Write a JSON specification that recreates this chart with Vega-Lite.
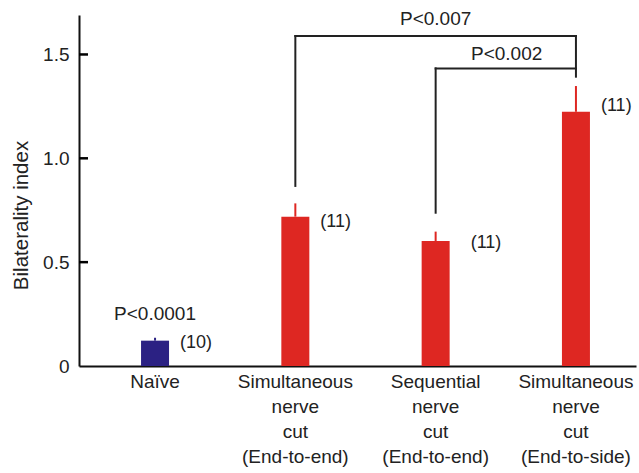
{
  "$schema": "https://vega.github.io/schema/vega-lite/v6.json",
  "width": 557,
  "height": 351,
  "autosize": {"type": "none"},
  "padding": {"left": 79, "top": 15, "right": 3, "bottom": 107},
  "config": {
    "view": {"stroke": null},
    "font": "Liberation Sans",
    "axisY": {
      "domainColor": "#111",
      "domainWidth": 2,
      "grid": false,
      "labelFontSize": 19,
      "labelColor": "#222",
      "labelFont": "Liberation Sans",
      "titleFontSize": 20.5,
      "titleFontWeight": "normal",
      "titleColor": "#222",
      "titleFont": "Liberation Sans"
    },
    "axisX": {
      "domainColor": "#111",
      "domainWidth": 2,
      "ticks": false,
      "labelFontSize": 19,
      "labelColor": "#222",
      "labelFont": "Liberation Sans",
      "labelAngle": 0,
      "labelLineHeight": 25,
      "labelPadding": 6,
      "title": null,
      "grid": false
    }
  },
  "resolve": {"scale": {"x": "independent"}, "axis": {"x": "independent"}},
  "datasets": {
    "bars": [
      {"cat": "Naïve", "group": "naive", "mean": 0.122, "upper": 0.136, "n": "(10)", "ny": 0.111},
      {"cat": "Simultaneous|nerve|cut|(End-to-end)", "group": "cut", "mean": 0.719, "upper": 0.783, "n": "(11)", "ny": 0.693},
      {"cat": "Sequential|nerve|cut|(End-to-end)", "group": "cut", "mean": 0.602, "upper": 0.647, "n": "(11)", "ny": 0.592},
      {"cat": "Simultaneous|nerve|cut|(End-to-side)", "group": "cut", "mean": 1.224, "upper": 1.348, "n": "(11)", "ny": 1.253}
    ],
    "brackets": [
      {"cat": "Simultaneous|nerve|cut|(End-to-end)", "cat2": "Simultaneous|nerve|cut|(End-to-end)", "y1": 0.867, "y2": 1.589},
      {"cat": "Simultaneous|nerve|cut|(End-to-end)", "cat2": "Simultaneous|nerve|cut|(End-to-side)", "y1": 1.589, "y2": 1.589},
      {"cat": "Simultaneous|nerve|cut|(End-to-side)", "cat2": "Simultaneous|nerve|cut|(End-to-side)", "y1": 1.589, "y2": 1.393},
      {"cat": "Sequential|nerve|cut|(End-to-end)", "cat2": "Sequential|nerve|cut|(End-to-end)", "y1": 0.738, "y2": 1.433},
      {"cat": "Sequential|nerve|cut|(End-to-end)", "cat2": "Simultaneous|nerve|cut|(End-to-side)", "y1": 1.433, "y2": 1.433}
    ],
    "pvals": [
      {"cat": "Naïve", "y": 0.25, "label": "P<0.0001", "pos": "center"},
      {"cat": "Sequential|nerve|cut|(End-to-end)", "y": 1.671, "label": "P<0.007", "pos": "center"},
      {"cat": "Sequential|nerve|cut|(End-to-end)", "y": 1.502, "label": "P<0.002", "pos": "between"}
    ],
    "ticks": [{"v": 0.5, "a": 0, "b": 9}, {"v": 1.0, "a": 0, "b": 9}, {"v": 1.5, "a": 0, "b": 9}]
  },
  "layer": [
    {
      "encoding": {
        "x": {
          "field": "cat",
          "type": "nominal",
          "sort": null,
          "scale": {
            "domain": ["Naïve", "Simultaneous|nerve|cut|(End-to-end)", "Sequential|nerve|cut|(End-to-end)", "Simultaneous|nerve|cut|(End-to-side)"],
            "paddingInner": 0.8,
            "paddingOuter": 0.385,
            "align": 0.574
          },
          "axis": {"labelExpr": "split(datum.label, '|')"}
        }
      },
      "layer": [
        {
          "data": {"name": "bars"},
          "mark": {"type": "bar", "size": 28},
          "encoding": {
            "y": {
              "field": "mean",
              "type": "quantitative",
              "title": "Bilaterality index",
              "scale": {"domain": [0, 1.69], "nice": false, "zero": true},
              "axis": {
                "values": [0, 0.5, 1, 1.5],
                "labelExpr": "datum.value == 0 ? '0' : format(datum.value, '.1f')",
                "ticks": false,
                "labelPadding": 10,
                "titleX": -58,
                "titleY": 200,
                "titleBaseline": "middle",
                "titleAngle": -90,
                "titleAlign": "center"
              }
            },
            "color": {
              "field": "group",
              "type": "nominal",
              "scale": {"domain": ["naive", "cut"], "range": ["#2b2183", "#de2722"]},
              "legend": null
            }
          }
        },
        {
          "data": {"name": "bars"},
          "mark": {"type": "rule", "strokeWidth": 2},
          "encoding": {
            "y": {"field": "mean", "type": "quantitative", "title": "Bilaterality index"},
            "y2": {"field": "upper"},
            "color": {"field": "group", "type": "nominal", "legend": null}
          }
        },
        {
          "data": {"name": "brackets"},
          "mark": {"type": "rule", "strokeWidth": 2, "color": "#222", "strokeCap": "square"},
          "encoding": {
            "x2": {"field": "cat2"},
            "y": {"field": "y1", "type": "quantitative", "title": "Bilaterality index"},
            "y2": {"field": "y2"}
          }
        },
        {
          "data": {"name": "bars"},
          "transform": [{"filter": "datum.cat != 'Sequential|nerve|cut|(End-to-end)'"}],
          "mark": {"type": "text", "align": "left", "baseline": "middle", "dx": 25, "fontSize": 18, "color": "#222", "font": "Liberation Sans"},
          "encoding": {
            "y": {"field": "ny", "type": "quantitative", "title": "Bilaterality index"},
            "text": {"field": "n"}
          }
        },
        {
          "data": {"name": "bars"},
          "transform": [{"filter": "datum.cat == 'Sequential|nerve|cut|(End-to-end)'"}],
          "mark": {"type": "text", "align": "left", "baseline": "middle", "dx": 35, "fontSize": 18, "color": "#222", "font": "Liberation Sans"},
          "encoding": {
            "y": {"field": "ny", "type": "quantitative", "title": "Bilaterality index"},
            "text": {"field": "n"}
          }
        },
        {
          "data": {"name": "pvals"},
          "transform": [{"filter": "datum.pos == 'center'"}],
          "mark": {"type": "text", "align": "center", "baseline": "middle", "fontSize": 19, "color": "#222", "font": "Liberation Sans"},
          "encoding": {
            "y": {"field": "y", "type": "quantitative", "title": "Bilaterality index"},
            "text": {"field": "label"}
          }
        },
        {
          "data": {"name": "pvals"},
          "transform": [{"filter": "datum.pos == 'between'"}],
          "mark": {"type": "text", "align": "center", "baseline": "middle", "dx": 71, "fontSize": 19, "color": "#222", "font": "Liberation Sans"},
          "encoding": {
            "y": {"field": "y", "type": "quantitative", "title": "Bilaterality index"},
            "text": {"field": "label"}
          }
        }
      ]
    },
    {
      "data": {"name": "ticks"},
      "mark": {"type": "rule", "strokeWidth": 2.5, "color": "#000"},
      "encoding": {
        "x": {"field": "a", "type": "quantitative", "scale": {"domain": [0, 557], "nice": false, "zero": true}, "axis": null},
        "x2": {"field": "b"},
        "y": {"field": "v", "type": "quantitative", "title": "Bilaterality index"}
      }
    }
  ]
}
